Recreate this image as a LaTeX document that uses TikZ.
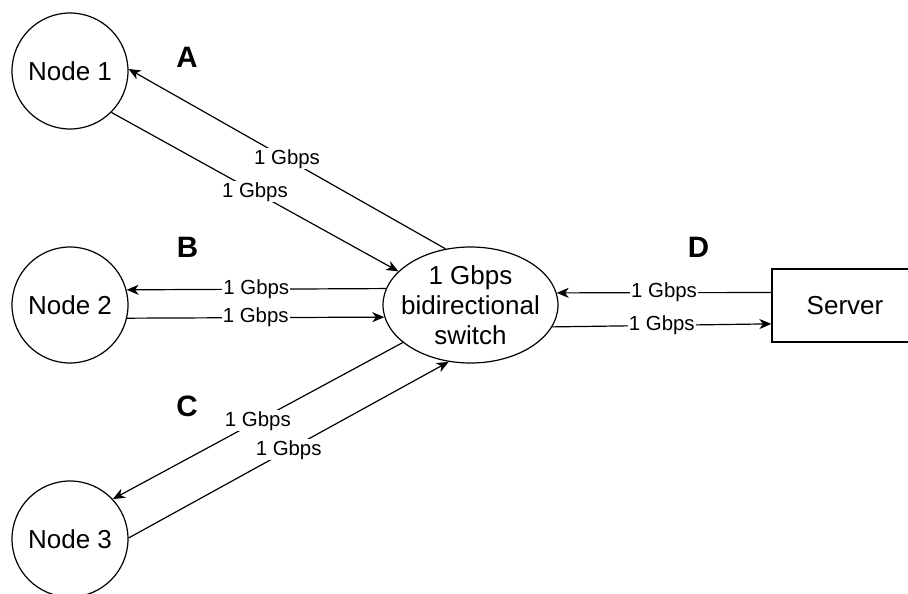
\documentclass[tikz,border=0pt]{standalone}
\usepackage{fontspec}
\setmainfont{Liberation Sans}
\usetikzlibrary{shapes.geometric,arrows.meta}
\begin{document}
\begin{tikzpicture}[x=1pt,y=-1pt,
  host/.style={circle,draw,line width=1.2pt,minimum size=116pt,inner sep=0pt,
    font=\fontsize{26}{30}\selectfont},
  hub/.style={ellipse,draw,line width=1.2pt,minimum width=175pt,minimum height=116pt,inner sep=0pt},
  hubtext/.style={align=center,inner sep=0pt,font=\fontsize{26}{30}\selectfont},
  srvbox/.style={rectangle,draw,line width=1.2pt,minimum width=146pt,minimum height=73pt,inner sep=0pt,
    font=\fontsize{26}{30}\selectfont},
  link/.style={line width=1.2pt,-{Stealth[length=12pt,width=10pt,inset=3.5pt]}},
  rate/.style={fill=white,inner sep=1pt,font=\fontsize{20.4}{23}\selectfont},
  tag/.style={font=\fontsize{29.5}{32}\selectfont\bfseries}
]
\useasboundingbox (0,0) rectangle (908,594);

% hosts, switch and server
\node[host] (n1) at (70,71) {Node 1};
\node[host] (n2) at (70,305) {Node 2};
\node[host] (n3) at (70,539) {Node 3};
\node[hub] (sw) at (470.5,305) {};
\node[hubtext] (swl) at (sw.center) {1 Gbps\\bidirectional\\switch};
\node[srvbox] (srv) at (845,305.5) {Server};

% link names
\node[tag] (ta) at (187,57.5) {A};
\node[tag] (tb) at (187.5,247.5) {B};
\node[tag] (tc) at (187,406) {C};
\node[tag] (td) at (698.5,247.5) {D};

% link A
\draw[link] (sw.114) -- node[rate] {1 Gbps} (n1.2);
\draw[link] (n1.-45) -- node[rate] {1 Gbps} (sw.155);
% link B
\draw[link] (sw.169.9) -- node[rate] {1 Gbps} (n2.15);
\draw[link] (n2.-13) -- node[rate] {1 Gbps} (sw.188.7);
% link C
\draw[link] (sw.209.6) -- node[rate] {1 Gbps} (n3.43.6);
\draw[link] (n3.1) -- node[rate] {1 Gbps} (sw.249.4);
% link D
\draw[link] (srv.170.3) -- node[rate] {1 Gbps} (sw.8);
\draw[link] (sw.-15.2) -- node[rate] {1 Gbps} (srv.194.2);
\end{tikzpicture}
\end{document}
